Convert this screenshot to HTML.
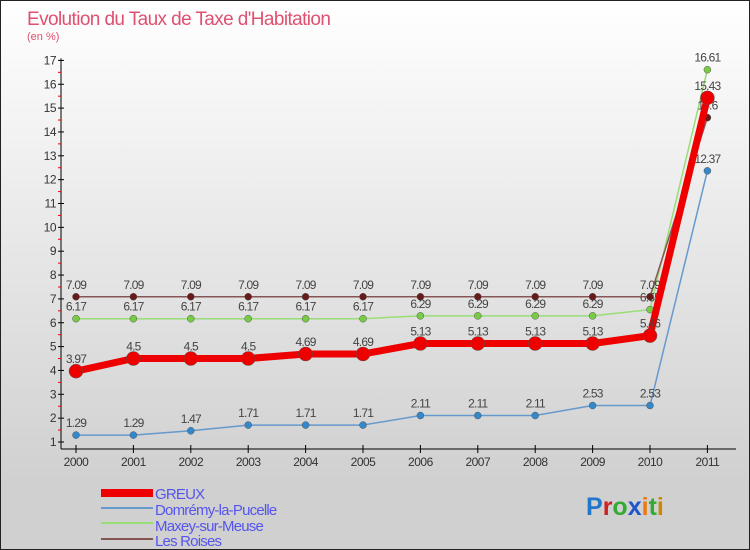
<!DOCTYPE html>
<html><head><meta charset="utf-8"><style>
body{margin:0;width:750px;height:550px;overflow:hidden;font-family:"Liberation Sans",sans-serif}
#wrap{position:relative;width:750px;height:550px;box-sizing:border-box;border:1px solid #222;background:linear-gradient(#fff,#d0d0d0 88%,#d0d0d0)}
</style></head><body>
<div id="wrap">
<svg id="chart" width="748" height="548" xmlns="http://www.w3.org/2000/svg" style="position:absolute;left:0;top:0">
<text x="26" y="24" font-size="19" fill="#e05070" letter-spacing="-0.6">Evolution du Taux de Taxe d'Habitation</text>
<text x="26" y="39" font-size="11" fill="#e05070">(en %)</text>
<g id="plot"></g>
<g id="legend" font-size="15" fill="#5555ee" letter-spacing="-0.8">
<rect x="100" y="488" width="52" height="8" fill="#ee0000"/>
<text x="154" y="498">GREUX</text>
<rect x="100" y="506" width="52" height="2" fill="#6699cc"/>
<text x="154" y="514">Domrémy-la-Pucelle</text>
<rect x="100" y="521" width="52" height="2" fill="#99dd77"/>
<text x="154" y="530">Maxey-sur-Meuse</text>
<rect x="100" y="537" width="52" height="2" fill="#885555"/>
<text x="154" y="545">Les Roises</text>
</g>
<text x="585" y="514" font-size="25" font-weight="bold"><tspan fill="#2277cc">P</tspan><tspan fill="#cc2222">r</tspan><tspan fill="#33aa33">o</tspan><tspan fill="#2255cc">x</tspan><tspan fill="#ee7711">i</tspan><tspan fill="#33aa33">t</tspan><tspan fill="#cc8800">i</tspan></text>
</svg>
</div>
<script>
const years=["2000","2001","2002","2003","2004","2005","2006","2007","2008","2009","2010","2011"];
const greux=[3.97,4.5,4.5,4.5,4.69,4.69,5.13,5.13,5.13,5.13,5.46,15.43];
const domremy=[1.29,1.29,1.47,1.71,1.71,1.71,2.11,2.11,2.11,2.53,2.53,12.37];
const maxey=[6.17,6.17,6.17,6.17,6.17,6.17,6.29,6.29,6.29,6.29,6.55,16.61];
const roises=[7.09,7.09,7.09,7.09,7.09,7.09,7.09,7.09,7.09,7.09,7.09,14.6];
const yTicks=[1,2,3,4,5,6,7,8,9,10,11,12,13,14,15,16,17];
const NS="http://www.w3.org/2000/svg";
const g=document.getElementById('plot');
const X=i=>75+i*57.4;
const Y=v=>441-(v-1)*23.85;
function el(t,a){const e=document.createElementNS(NS,t);for(const k in a)e.setAttribute(k,a[k]);g.appendChild(e);return e;}
let ax=el('line',{x1:60,y1:Y(17)-2,x2:60,y2:448,stroke:'#000'});


let xa=el('line',{x1:60,y1:448,x2:735,y2:448,stroke:'#000'});


yTicks.forEach(v=>{
 let t=el('line',{x1:57,x2:63,y1:Y(v),y2:Y(v),stroke:'#000'});
 
 
 let m=el('line',{x1:57,x2:60,y1:Y(v+0.5),y2:Y(v+0.5),stroke:'#e00'});
 if(v<17){}else m.remove();
 let l=el('text',{x:55,y:Y(v)+4,'font-size':12,'text-anchor':'end',fill:'#333','letter-spacing':'-0.5'});
 l.textContent=v;
 
 
});
years.forEach((yr,i)=>{
 let t=el('line',{x1:X(i),x2:X(i),y1:444,y2:452,stroke:'#000'});
 
 
 let l=el('text',{x:X(i),y:465,'font-size':12,'text-anchor':'middle',fill:'#333','letter-spacing':'-0.5'});
 l.textContent=yr;
 
 
});
function series(data,name,color,w,r,dot){
 let p=el('polyline',{points:data.map((v,i)=>X(i)+','+Y(v)).join(' '),fill:'none',stroke:color,'stroke-width':w,'stroke-linejoin':'round'});
 
 
 data.forEach((v,i)=>{
  let c=el('circle',{cx:X(i),cy:Y(v),r:r,fill:dot,stroke:'#555','stroke-width':0.5});
  
  
  let l=el('text',{x:X(i),y:Y(v)-8,'font-size':12,'text-anchor':'middle',fill:'#444','letter-spacing':'-0.8'});
  l.textContent=v;
  
  
 });
}
series(domremy,'domremy','#6699cc',1.5,3.5,'#3388cc');
series(maxey,'maxey','#99dd77',1.5,3.5,'#77cc44');
series(roises,'roises','#885555',1.5,3.5,'#661a1a');
series(greux,'greux','#ee0000',7,7,'#ee0000');
</script>
</body></html>
